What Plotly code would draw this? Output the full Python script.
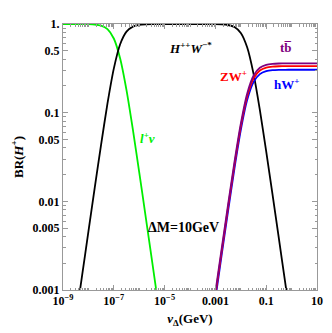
import plotly.graph_objects as go

# log10(v_Delta / GeV) grid
logv = [-9, -8.75, -8.5, -8.25, -8, -7.75, -7.5, -7.25, -7, -6.75, -6.5, -6.25, -6,
        -5.75, -5.5, -5.25, -5, -4.5, -4, -3.5, -3.25, -3, -2.75, -2.5, -2.25, -2,
        -1.75, -1.5, -1.25, -1, -0.75, -0.5, -0.25, 0, 0.5, 1]

br_lnu = [0.99995, 0.99986, 0.99954, 0.99856, 0.99545, 0.98575, 0.9563, 0.8737, 0.6863,
          0.4089, 0.1795, 0.0647, 0.02141, 0.00687, 0.002183, 0.000691, 0.000219,
          2.2e-5, 2.2e-6, None, None, None, None, None, None, None, None, None, None,
          None, None, None, None, None, None, None]
br_hw_star = [4.57e-5, 1.445e-4, 4.57e-4, 1.443e-3, 4.55e-3, 0.01425, 0.0437, 0.1263, 0.3137,
              0.5911, 0.8205, 0.9353, 0.9786, 0.99313, 0.99782, 0.9993, 0.99976, 0.99995,
              0.99997, 0.99974, 0.99917, 0.99737, 0.99175, 0.97437, 0.9232, 0.7918,
              0.5459, 0.2755, 0.1073, 0.03663, 0.01188, 0.003788, 0.0012, 0.00038,
              3.8e-5, 3.8e-6]
br_tb = [None] * 18 + [9.5e-6, 9.5e-5, 3.0e-4, 9.44e-4, 2.97e-3, 0.009226, 0.02765, 0.07497,
                       0.1635, 0.2608, 0.3214, 0.3468, 0.3557, 0.3586, 0.3596, 0.3599, 0.36, 0.36]
br_zw = [None] * 18 + [8.8e-6, 8.8e-5, 2.79e-4, 8.79e-4, 2.764e-3, 0.008586, 0.02573, 0.06976,
                       0.1521, 0.2427, 0.2991, 0.3227, 0.331, 0.3337, 0.3346, 0.3349, 0.335, 0.335]
br_hw = [None] * 18 + [8.0e-6, 8.0e-5, 2.54e-4, 8.0e-4, 2.516e-3, 0.007817, 0.02342, 0.0635,
                       0.1385, 0.221, 0.2723, 0.2938, 0.3014, 0.3038, 0.3046, 0.3049, 0.305, 0.305]

xtickvals = [1e-9, 1e-7, 1e-5, 1e-3, 1e-1, 10]
xticktext = ["10<sup>\u22129</sup>", "10<sup>\u22127</sup>", "10<sup>\u22125</sup>", "0.001", "0.1", "10"]
ytickvals = [1, 0.5, 0.1, 0.05, 0.01, 0.005, 0.001]
yticktext = ["1.", "0.5", "0.1", "0.05", "0.01", "0.005", "0.001"]

v = [10 ** l for l in logv]

fig = go.Figure()
series = [
    (br_lnu, "#00ee00"),
    (br_hw_star, "black"),
    (br_hw, "blue"),
    (br_zw, "red"),
    (br_tb, "purple"),
]
for ys, col in series:
    fig.add_trace(go.Scatter(x=v, y=ys, mode="lines", line=dict(color=col, width=1.8, shape="spline", smoothing=0.6),
                             connectgaps=False, showlegend=False, hoverinfo="skip"))

SERIF = "Liberation Serif, Times New Roman, serif"
axis_common = dict(type="log", showgrid=False, zeroline=False, showline=True, linecolor="#999999",
                   linewidth=1, mirror="allticks", ticks="inside", ticklen=5, tickcolor="#999999",
                   tickfont=dict(family=SERIF, size=12, color="black"))

fig.update_xaxes(range=[-9, 1], tickvals=xtickvals, ticktext=["<b>%s</b>" % t for t in xticktext],
                 minor=dict(ticks="inside", ticklen=2.5, tickcolor="#999999", dtick="D1"),
                 title=dict(text="<b><i>v</i><sub>\u0394</sub>(GeV)</b>", font=dict(family=SERIF, size=13), standoff=6),
                 **axis_common)
fig.update_yaxes(range=[-3, 0], tickvals=ytickvals, ticktext=["<b>%s</b>" % t for t in yticktext],
                 minor=dict(ticks="inside", ticklen=2.5, tickcolor="#999999", dtick="D1"),
                 title=dict(text="<b>BR(<i>H</i><sup>+</sup>)</b>", font=dict(family=SERIF, size=13), standoff=6),
                 **axis_common)

def ann(x, y, text, color, size=13):
    fig.add_annotation(x=x, y=y, xref="paper", yref="paper", text=text, showarrow=False,
                       font=dict(family=SERIF, size=size, color=color),
                       xanchor="center", yanchor="middle")

W, H = 266, 268
L0, T0 = 57, 20
def px(xp, yp):
    return (xp - L0) / W, 1 - (yp - T0) / H

ann(*px(191, 44), "<b><i>H</i><sup>++</sup><i>W</i><sup>\u2212*</sup></b>", "black")
ann(*px(291, 44), "<b>tb\u0305</b>", "purple")
ann(*px(236, 72), "<b>ZW<sup>+</sup></b>", "red")
ann(*px(291, 80), "<b>hW<sup>+</sup></b>", "blue")
ann(*px(145, 135), "<b><i>l</i><sup>+</sup><i>\u03bd</i></b>", "#00ee00")
ann(*px(183, 225), "<b>\u0394M=10GeV</b>", "black", size=14)

fig.update_layout(width=324, height=325, margin=dict(l=49, r=9, t=12, b=37),
                  paper_bgcolor="white", plot_bgcolor="white",
                  font=dict(family=SERIF, size=12, color="black"))

fig.write_html("out.html")
